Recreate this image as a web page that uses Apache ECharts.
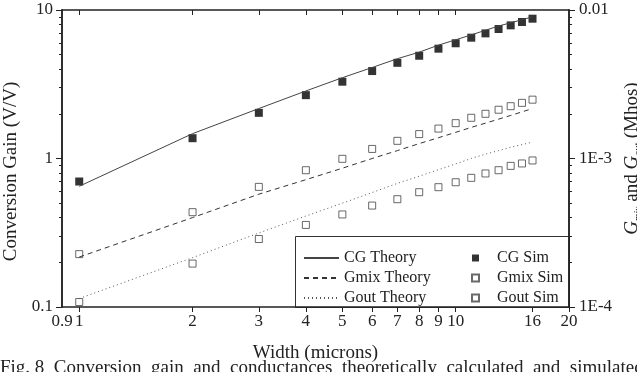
<!DOCTYPE html>
<html>
<head>
<meta charset="utf-8">
<script src="https://cdn.jsdelivr.net/npm/echarts@6/dist/echarts.min.js"></script>
<style>
  html, body { margin: 0; padding: 0; background: #fff; }
  #chart { width: 637px; height: 372px; }
</style>
</head>
<body>
<div id="chart"></div>
<script>
// gate width (microns)
var widths = [1, 2, 3, 4, 5, 6, 7, 8, 9, 10, 11, 12, 13, 14, 15, 16];
// conversion gain (V/V), left axis
var cgTheory = [0.65, 1.47, 2.17, 2.85, 3.5, 4.1, 4.7, 5.2, 5.8, 6.3, 6.8, 7.3, 7.8, 8.2, 8.6, 9.0];
var cgSim = [0.70, 1.37, 2.03, 2.67, 3.29, 3.88, 4.41, 4.92, 5.49, 5.97, 6.51, 6.96, 7.45, 7.88, 8.30, 8.74];
// conductances (Mhos), right axis
var gmixTheory = [2.17e-4, 4.0e-4, 5.75e-4, 7.2e-4, 8.6e-4, 1.0e-3, 1.13e-3, 1.26e-3, 1.38e-3, 1.5e-3, 1.62e-3, 1.73e-3, 1.84e-3, 1.95e-3, 2.06e-3, 2.17e-3];
var gmixSim = [2.27e-4, 4.35e-4, 6.44e-4, 8.34e-4, 9.95e-4, 1.16e-3, 1.315e-3, 1.46e-3, 1.59e-3, 1.73e-3, 1.88e-3, 2.0e-3, 2.13e-3, 2.25e-3, 2.37e-3, 2.49e-3];
var goutTheory = [1.14e-4, 2.15e-4, 3.15e-4, 4.1e-4, 5.0e-4, 5.9e-4, 6.8e-4, 7.6e-4, 8.4e-4, 9.2e-4, 1.0e-3, 1.07e-3, 1.13e-3, 1.19e-3, 1.24e-3, 1.29e-3];
var goutSim = [1.08e-4, 1.96e-4, 2.87e-4, 3.57e-4, 4.2e-4, 4.82e-4, 5.32e-4, 5.93e-4, 6.41e-4, 6.92e-4, 7.41e-4, 7.93e-4, 8.34e-4, 8.92e-4, 9.26e-4, 9.7e-4];

// axis ticks and labels
var xLabels = [0.9, 1, 2, 3, 4, 5, 6, 7, 8, 9, 10, 16, 20];
var xTicksBottom = [1, 2, 3, 4, 5, 6, 7, 8, 9, 10, 16, 20];
var xTicksTop = [1, 2, 3, 4, 5, 6, 7, 8, 9, 10];
var leftMajor = [0.1, 1, 10];
var leftTicks = [0.1, 0.2, 0.3, 0.4, 0.5, 0.6, 0.7, 0.8, 0.9, 1, 2, 3, 4, 5, 6, 7, 8, 9, 10];
var rightMajor = [1e-4, 1e-3, 1e-2];
var rightLabels = ['1E-4', '1E-3', '0.01'];
var rightTicks = [1e-4, 2e-4, 3e-4, 4e-4, 5e-4, 6e-4, 7e-4, 8e-4, 9e-4, 1e-3, 2e-3, 3e-3, 4e-3, 5e-3, 6e-3, 7e-3, 8e-3, 9e-3, 1e-2];

function pairs(ys) {
  return widths.map(function (w, i) { return [w, ys[i]]; });
}

var font = 'Liberation Serif';
var ink = '#222';

var chart = echarts.init(document.getElementById('chart'));
chart.setOption({
  animation: false,
  backgroundColor: '#fff',
  textStyle: { fontFamily: font, color: ink },
  grid: { left: 62, right: 68, top: 10, bottom: 65, containLabel: false, outerBoundsMode: 'none' },
  xAxis: [{
    type: 'log', min: 0.9, max: 20, position: 'bottom',
    name: 'Width (microns)', nameLocation: 'middle', nameGap: 37,
    nameTextStyle: { fontFamily: font, fontSize: 19, color: ink },
    axisLine: { lineStyle: { color: ink, width: 1.5 } },
    axisTick: { show: true, length: 5, customValues: xTicksBottom, lineStyle: { color: ink, width: 1 } },
    axisLabel: {
      customValues: xLabels, fontFamily: font, fontSize: 17, color: ink, margin: 6,
      formatter: function (v) { return String(+(+v).toFixed(2)); }
    },
    splitLine: { show: false }
  }, {
    type: 'log', min: 0.9, max: 20, position: 'top',
    axisLine: { lineStyle: { color: ink, width: 1.5 } },
    axisTick: { show: true, inside: true, length: 5, customValues: xTicksTop, lineStyle: { color: ink, width: 1 } },
    axisLabel: { show: false },
    splitLine: { show: false }
  }],
  yAxis: [{
    type: 'log', min: 0.1, max: 10, position: 'left',
    name: 'Conversion Gain (V/V)', nameLocation: 'middle', nameGap: 36, nameRotate: 90,
    nameTextStyle: { fontFamily: font, fontSize: 19, color: ink, padding: [0, 26, 0, 0] },
    axisLine: { lineStyle: { color: ink, width: 1.5 } },
    axisTick: { show: true, length: 3, customValues: leftTicks, lineStyle: { color: ink, width: 1 } },
    axisLabel: {
      customValues: leftMajor, fontFamily: font, fontSize: 17, color: ink, margin: 9,
      formatter: function (v) { return String(+(+v).toFixed(2)); }
    },
    splitLine: { show: false }
  }, {
    type: 'log', min: 1e-4, max: 1e-2, position: 'right',
    name: '{i|G}{s|mix}{n| and }{i|G}{s|out}{n| (Mhos)}', nameLocation: 'middle', nameGap: 50, nameRotate: 90,
    nameTextStyle: {
      fontFamily: font, fontSize: 19, color: ink,
      rich: {
        i: { fontFamily: font, fontSize: 19, fontStyle: 'italic', color: ink, verticalAlign: 'middle', lineHeight: 22 },
        n: { fontFamily: font, fontSize: 19, color: ink, verticalAlign: 'middle', lineHeight: 22 },
        s: { fontFamily: font, fontSize: 10, fontStyle: 'italic', color: ink, verticalAlign: 'bottom', lineHeight: 22 }
      }
    },
    axisLine: { lineStyle: { color: ink, width: 1.5 } },
    axisTick: { show: true, length: 3, customValues: rightTicks, lineStyle: { color: ink, width: 1 } },
    axisLabel: {
      customValues: rightMajor, fontFamily: font, fontSize: 17, color: ink, margin: 10,
      formatter: function (v) {
        var k = rightMajor.findIndex(function (m) { return Math.abs(Math.log10(v) - Math.log10(m)) < 1e-6; });
        return k >= 0 ? rightLabels[k] : '';
      }
    },
    splitLine: { show: false }
  }, {
    // longer ticks at the decades, left
    type: 'log', min: 0.1, max: 10, position: 'left',
    axisLine: { show: true, lineStyle: { color: ink, width: 1.5 } },
    axisTick: { show: true, length: 6, customValues: leftMajor, lineStyle: { color: ink, width: 1 } },
    axisLabel: { show: false }, splitLine: { show: false }
  }, {
    // longer ticks at the decades, right
    type: 'log', min: 1e-4, max: 1e-2, position: 'right',
    axisLine: { show: true, lineStyle: { color: ink, width: 1.5 } },
    axisTick: { show: true, length: 6, customValues: rightMajor, lineStyle: { color: ink, width: 1 } },
    axisLabel: { show: false }, splitLine: { show: false }
  }],
  legend: [{
    orient: 'vertical', left: 298, top: 245,
    itemWidth: 35, itemHeight: 12, itemGap: 4,
    itemStyle: { opacity: 0 },
    textStyle: { fontFamily: font, fontSize: 16, color: ink },
    data: ['CG Theory', 'Gmix Theory', 'Gout Theory']
  }, {
    orient: 'vertical', left: 466, top: 245,
    itemWidth: 7, itemHeight: 7, itemGap: 4,
    textStyle: { fontFamily: font, fontSize: 16, color: ink, padding: [0, 0, 0, 13] },
    data: ['CG Sim', 'Gmix Sim', 'Gout Sim']
  }],
  graphic: [{
    type: 'rect', left: 293, top: 234,
    shape: { width: 274, height: 71 },
    style: { fill: 'none', stroke: '#333', lineWidth: 1 }
  }, {
    type: 'text', left: 0, top: 359,
    style: {
      text: 'Fig. 8  Conversion  gain  and  conductances  theoretically  calculated  and  simulated  versus  width',
      font: '19px "Liberation Serif"', fill: ink
    }
  }],
  series: [{
    name: 'CG Theory', type: 'line', yAxisIndex: 0, data: pairs(cgTheory),
    symbol: 'none', color: '#444', lineStyle: { color: '#444', width: 1, type: 'solid' }
  }, {
    name: 'Gmix Theory', type: 'line', yAxisIndex: 1, data: pairs(gmixTheory),
    symbol: 'none', color: '#333', lineStyle: { color: '#333', width: 1, type: [5, 4] }
  }, {
    name: 'Gout Theory', type: 'line', yAxisIndex: 1, data: pairs(goutTheory),
    symbol: 'none', color: '#555', lineStyle: { color: '#555', width: 1, type: [1, 3] }
  }, {
    name: 'CG Sim', type: 'scatter', yAxisIndex: 0, data: pairs(cgSim),
    symbol: 'rect', symbolSize: 8, itemStyle: { color: '#000' }
  }, {
    name: 'Gmix Sim', type: 'scatter', yAxisIndex: 1, data: pairs(gmixSim),
    symbol: 'rect', symbolSize: 7, itemStyle: { color: '#fff', borderColor: '#444', borderWidth: 1 }
  }, {
    name: 'Gout Sim', type: 'scatter', yAxisIndex: 1, data: pairs(goutSim),
    symbol: 'rect', symbolSize: 7, itemStyle: { color: '#fff', borderColor: '#444', borderWidth: 1 }
  }]
});
</script>
</body>
</html>
